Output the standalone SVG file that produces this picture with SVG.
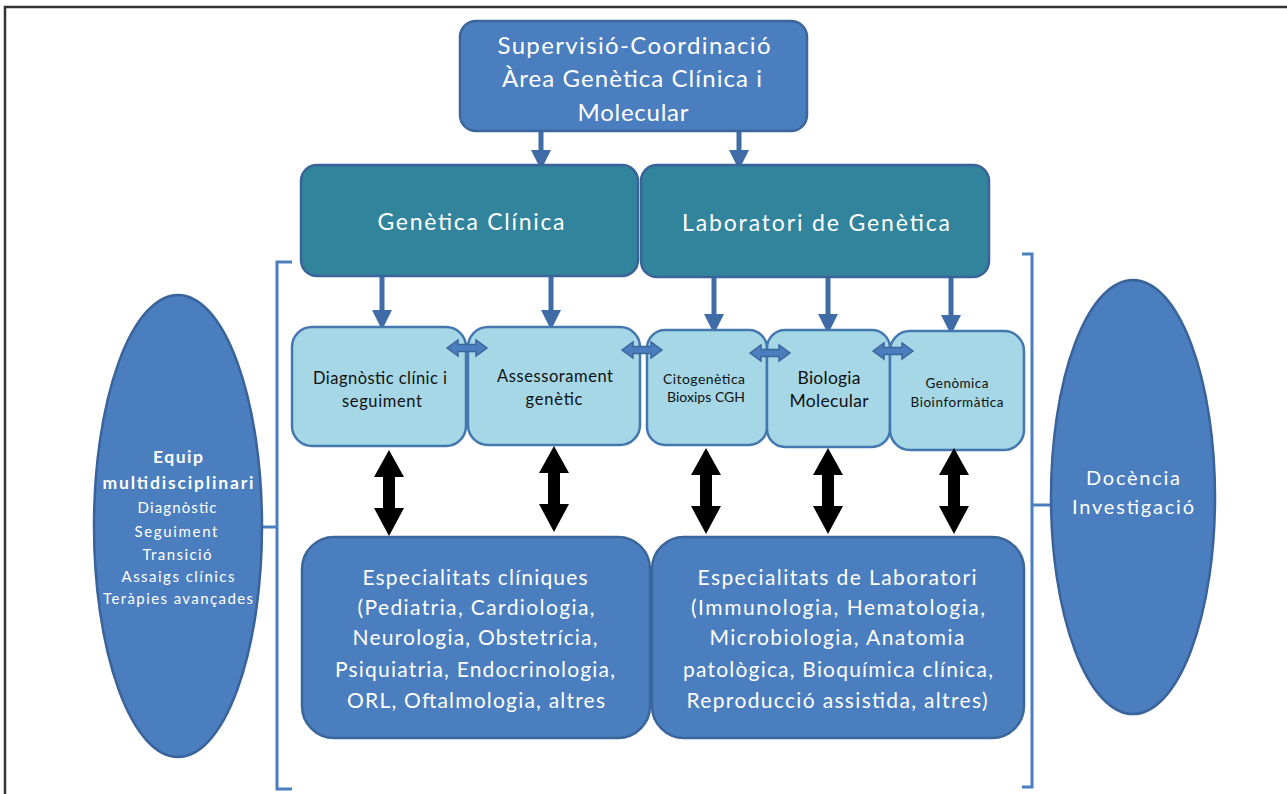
<svg xmlns="http://www.w3.org/2000/svg" width="1287" height="794" viewBox="0 0 1287 794">
<style>
.frame{fill:none;stroke:#333;stroke-width:2.5}
.dark{fill:#4A7EBE;stroke:#3B669C;stroke-width:2.5}
.teal{fill:#31849B;stroke:#3A639A;stroke-width:2.5}
.light{fill:#A5D7E6;stroke:#4477B0;stroke-width:2.5}
.ell{fill:#4A7EBE;stroke:#39639A;stroke-width:2.5}
.brk{fill:none;stroke:#4A7EBE;stroke-width:3}
.conn{stroke:#3F6CA6;stroke-width:5;fill:none}
.harr{fill:#4A7EBE;stroke:#3B669C;stroke-width:1.5}
.blk{fill:#000}
text{font-family:Lato,"Open Sans","Liberation Sans",sans-serif;text-anchor:middle}
.w{fill:#fff}
.k{fill:#111}
</style>
<defs>
<marker id="ah" markerWidth="4" markerHeight="4" refX="2" refY="2" orient="auto" markerUnits="strokeWidth">
<path d="M0,0 L4,2 L0,4 Z" fill="#3F6CA6"/>
</marker>
<path id="vda" d="M0 0 L15 27 L6 27 L6 58 L15 58 L0 86 L-15 58 L-6 58 L-6 27 L-15 27 Z"/>
<path id="hda" d="M0 0 L11 -8 L11 -3.5 L29 -3.5 L29 -8 L40 0 L29 8 L29 3.5 L11 3.5 L11 8 Z"/>
</defs>
<rect width="1287" height="794" fill="#fff"/>
<path class="frame" d="M5 794 L5 7 L1287 7"/>

<g id="connectors">
<line class="conn" x1="541" y1="131" x2="541" y2="160" marker-end="url(#ah)"/>
<line class="conn" x1="739" y1="131" x2="739" y2="160" marker-end="url(#ah)"/>
<line class="conn" x1="382" y1="277" x2="382" y2="320" marker-end="url(#ah)"/>
<line class="conn" x1="551" y1="277" x2="551" y2="320" marker-end="url(#ah)"/>
<line class="conn" x1="714" y1="278" x2="714" y2="324" marker-end="url(#ah)"/>
<line class="conn" x1="828" y1="278" x2="828" y2="324" marker-end="url(#ah)"/>
<line class="conn" x1="951" y1="278" x2="951" y2="325" marker-end="url(#ah)"/>
<path class="brk" d="M292 262 L277 262 L277 789 L292 789 M277 527 L262 527"/>
<path class="brk" d="M1022 254 L1032 254 L1032 787 L1022 787 M1032 505 L1052 505"/>
</g>

<g id="supervisio">
<rect class="dark" x="460" y="21" width="347" height="110" rx="16"/>
<text class="w" font-size="24" x="634" y="54" textLength="273">Supervisió-Coordinació</text>
<text class="w" font-size="24" x="632" y="87" textLength="260">Àrea Genètica Clínica i</text>
<text class="w" font-size="24" x="633" y="121" textLength="111">Molecular</text>
</g>

<g id="genetica-clinica">
<rect class="teal" x="301" y="165" width="337" height="111" rx="16"/>
<text class="w" font-size="23" x="471" y="230" textLength="187">Genètica Clínica</text>
</g>
<g id="laboratori-genetica">
<rect class="teal" x="641" y="165" width="348" height="112" rx="16"/>
<text class="w" font-size="23" x="816" y="231" textLength="268">Laboratori de Genètica</text>
</g>

<g id="diagnostic">
<rect class="light" x="292" y="327" width="174" height="119" rx="20"/>
<text class="k" font-size="16.5" x="380" y="384" textLength="134">Diagnòstic clínic i</text>
<text class="k" font-size="16.5" x="382" y="407" textLength="80">seguiment</text>
</g>
<g id="assessorament">
<rect class="light" x="468" y="327" width="172" height="118" rx="20"/>
<text class="k" font-size="16.5" x="555" y="382" textLength="116">Assessorament</text>
<text class="k" font-size="16.5" x="554" y="405" textLength="57">genètic</text>
</g>
<g id="citogenetica">
<rect class="light" x="647" y="330" width="120" height="115" rx="18"/>
<text class="k" font-size="14" x="704" y="384" textLength="82">Citogenètica</text>
<text class="k" font-size="14" x="706" y="402" textLength="78">Bioxips CGH</text>
</g>
<g id="biologia">
<rect class="light" x="767" y="330" width="123" height="117" rx="18"/>
<text class="k" font-size="17.5" x="829" y="384" textLength="63">Biologia</text>
<text class="k" font-size="17.5" x="829" y="407" textLength="79">Molecular</text>
</g>
<g id="genomica">
<rect class="light" x="890" y="331" width="134" height="119" rx="20"/>
<text class="k" font-size="13.5" x="957" y="388" textLength="63">Genòmica</text>
<text class="k" font-size="13.5" x="957" y="407" textLength="93">Bioinformàtica</text>
</g>

<g id="link-arrows">
<use href="#hda" class="harr" x="447" y="348"/>
<use href="#hda" class="harr" x="622" y="350"/>
<use href="#hda" class="harr" x="750" y="353"/>
<use href="#hda" class="harr" x="873" y="351"/>
<use href="#vda" class="blk" x="389" y="450"/>
<use href="#vda" class="blk" x="554" y="446"/>
<use href="#vda" class="blk" x="706" y="448"/>
<use href="#vda" class="blk" x="828" y="448"/>
<use href="#vda" class="blk" x="954" y="448"/>
<path class="blk" d="M629 646 L640 636 L640 642 L657 642 L657 636 L668 646 L657 656 L657 650 L640 650 L640 656 Z"/>
</g>

<g id="especialitats-cliniques">
<rect class="dark" x="302" y="537" width="348" height="201" rx="32"/>
<text class="w" font-size="21" x="475" y="585" textLength="225">Especialitats clíniques</text>
<text class="w" font-size="21" x="476" y="615" textLength="237">(Pediatria, Cardiologia,</text>
<text class="w" font-size="21" x="475" y="645" textLength="245">Neurologia, Obstetrícia,</text>
<text class="w" font-size="21" x="475" y="677" textLength="280">Psiquiatria, Endocrinologia,</text>
<text class="w" font-size="21" x="476" y="708" textLength="258">ORL, Oftalmologia, altres</text>
</g>
<g id="especialitats-laboratori">
<rect class="dark" x="652" y="537" width="372" height="201" rx="32"/>
<text class="w" font-size="21" x="837" y="585" textLength="279">Especialitats  de Laboratori</text>
<text class="w" font-size="21" x="838" y="615" textLength="294">(Immunologia, Hematologia,</text>
<text class="w" font-size="21" x="837" y="645" textLength="255">Microbiologia, Anatomia</text>
<text class="w" font-size="21" x="838" y="677" textLength="310">patològica, Bioquímica clínica,</text>
<text class="w" font-size="21" x="837" y="708" textLength="301">Reproducció assistida, altres)</text>
</g>

<g id="equip">
<ellipse class="ell" cx="178" cy="526" rx="84" ry="231"/>
<text class="w" font-size="17.5" font-weight="bold" x="178" y="463" textLength="50">Equip</text>
<text class="w" font-size="17.5" font-weight="bold" x="178" y="489" textLength="151">multidisciplinari</text>
<text class="w" font-size="15" x="177" y="513" textLength="79">Diagnòstic</text>
<text class="w" font-size="15" x="176" y="537" textLength="83">Seguiment</text>
<text class="w" font-size="15" x="177" y="560" textLength="69">Transició</text>
<text class="w" font-size="15" x="178" y="582" textLength="113">Assaigs  clínics</text>
<text class="w" font-size="15" x="178" y="604" textLength="150">Teràpies avançades</text>
</g>

<g id="docencia">
<ellipse class="ell" cx="1133" cy="497" rx="82" ry="217"/>
<text class="w" font-size="20" x="1133" y="485" textLength="94">Docència</text>
<text class="w" font-size="20" x="1133" y="514" textLength="122">Investigació</text>
</g>
</svg>
